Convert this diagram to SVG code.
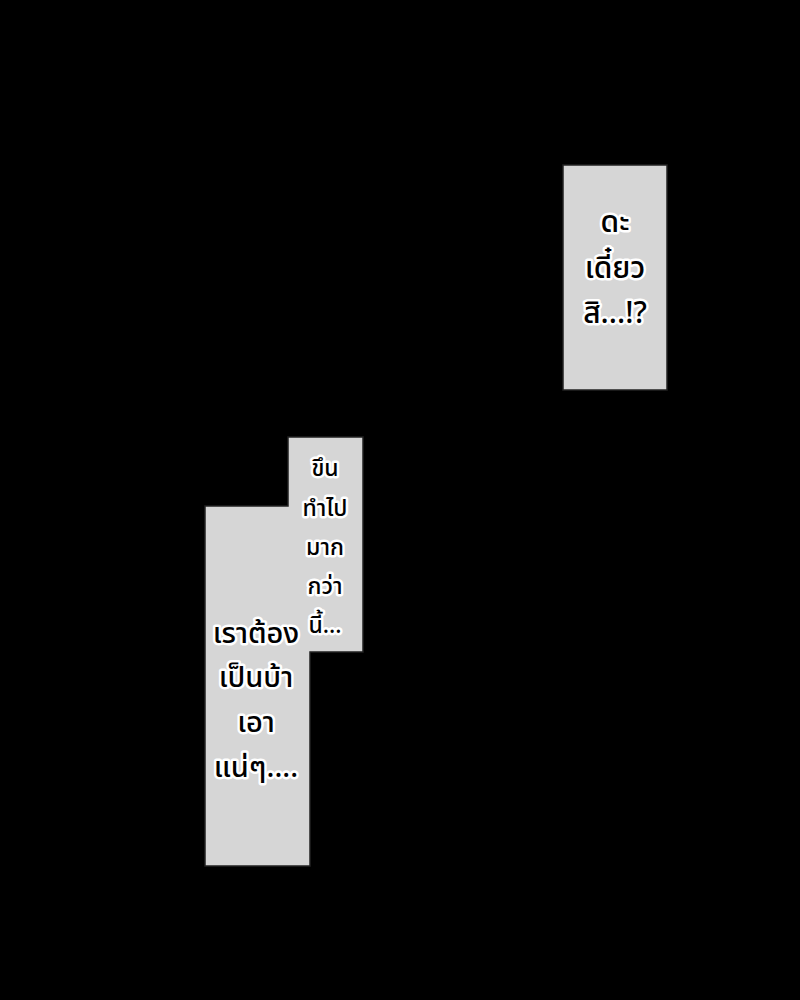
<svg xmlns="http://www.w3.org/2000/svg" width="800" height="1000" viewBox="0 0 800 1000">
<style>
.box{fill:#d6d6d6;stroke:#222;stroke-width:1.5}
.t{font-family:"Noto Sans Thai","Noto Sans","DejaVu Sans",sans-serif;font-weight:500;fill:#000;stroke:#fff;stroke-width:5;paint-order:stroke;stroke-linejoin:round;text-anchor:middle}
.big{font-size:30px}
.b3{font-size:29px}
.mid{font-size:23px}
</style>
<rect x="0" y="0" width="800" height="1000" fill="#000"/>
<g id="bubble1">
<rect class="box" x="563" y="165" width="104" height="225"/>
<text class="t big" x="615" y="232">ดะ</text>
<text class="t big" x="615" y="278">เดี๋ยว</text>
<text class="t big" x="615" y="323">สิ...!?</text>
</g>
<g id="bubble2-3">
<path class="box" d="M288,437 H363 V652 H310 V866 H205 V506 H288 Z"/>
</g>
<g id="bubble2">
<text class="t mid" x="325" y="476">ขึน</text>
<text class="t mid" x="325" y="516">ทำไป</text>
<text class="t mid" x="325" y="555">มาก</text>
<text class="t mid" x="325" y="594">กว่า</text>
<text class="t mid" x="325" y="633">นี้...</text>
</g>
<g id="bubble3">
<text class="t b3" x="256" y="643">เราต้อง</text>
<text class="t b3" x="256" y="687">เป็นบ้า</text>
<text class="t b3" x="256" y="732">เอา</text>
<text class="t b3" x="256" y="777">แน่ๆ....</text>
</g>
<g id="connectors"></g>
</svg>
